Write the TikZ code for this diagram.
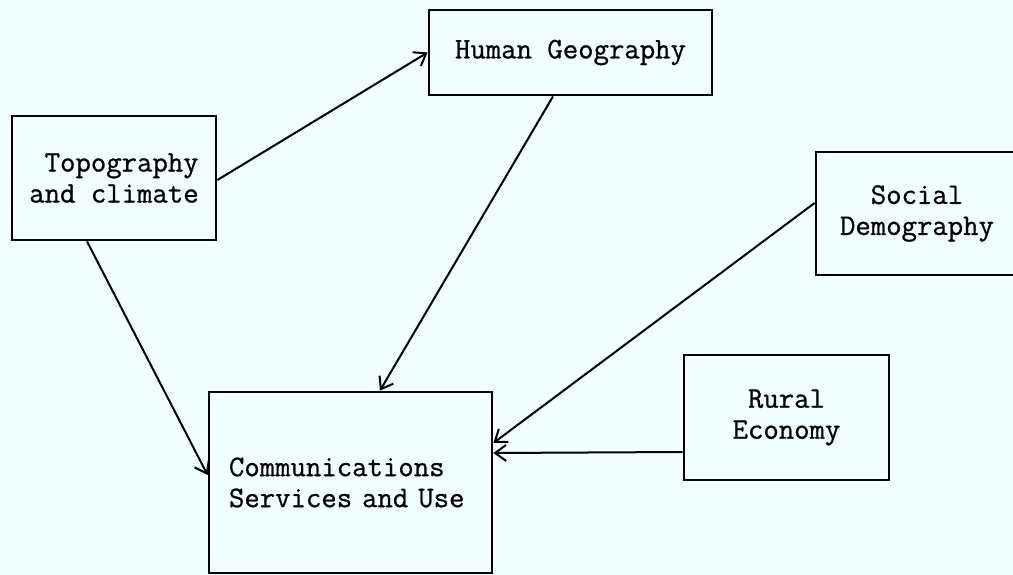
\documentclass[tikz,border=0pt]{standalone}
\usepackage{fontspec}
\newfontfamily\tw[FakeBold=0.8]{Latin Modern Mono}
\usetikzlibrary{arrows.meta}
\definecolor{bgc}{RGB}{240,254,254}
\tikzset{
  box/.style={draw=black, line width=2.8pt, rectangle, inner sep=0pt,
    font=\tw\fontsize{29.9}{31}\selectfont, text=black},
  conn/.style={draw=black, line width=2pt,
    -{Straight Barb[length=11pt,width=16pt]}}
}
\begin{document}
\begin{tikzpicture}[x=1pt,y=-1pt]
\fill[bgc] (0,0) rectangle (1013,575);
\useasboundingbox (0,0) rectangle (1013,575);
\node[box, minimum width=204pt, minimum height=124pt, align=right] (topo) at (114,178) {Topography\\and climate};
\node[box, minimum width=283pt, minimum height=85pt] (hg) at (570.5,52.5) {Human Geography};
\node[box, minimum width=202pt, minimum height=123pt, align=center] (soc) at (917,213.5) {Social\\Demography};
\node[box, minimum width=205pt, minimum height=125pt, align=center] (rural) at (786.5,417.5) {Rural\\Economy};
\node[box, minimum width=283pt, minimum height=181pt, text width=243pt, align=left] (comm) at (350.5,482.5) {Communications\\Services and Use};
\draw[conn] ([yshift=-2pt]topo.east) -- (hg.west);
\draw[conn] ([xshift=-17.5pt]hg.south) -- ([xshift=29.5pt]comm.north);
\draw[conn] ([xshift=-27pt]topo.south) -- ([yshift=7.5pt]comm.west);
\draw[conn] ([yshift=10.5pt]soc.west) -- ([yshift=39.5pt]comm.east);
\draw[conn] ([yshift=-34.5pt]rural.west) -- ([yshift=29.5pt]comm.east);
\end{tikzpicture}
\end{document}
